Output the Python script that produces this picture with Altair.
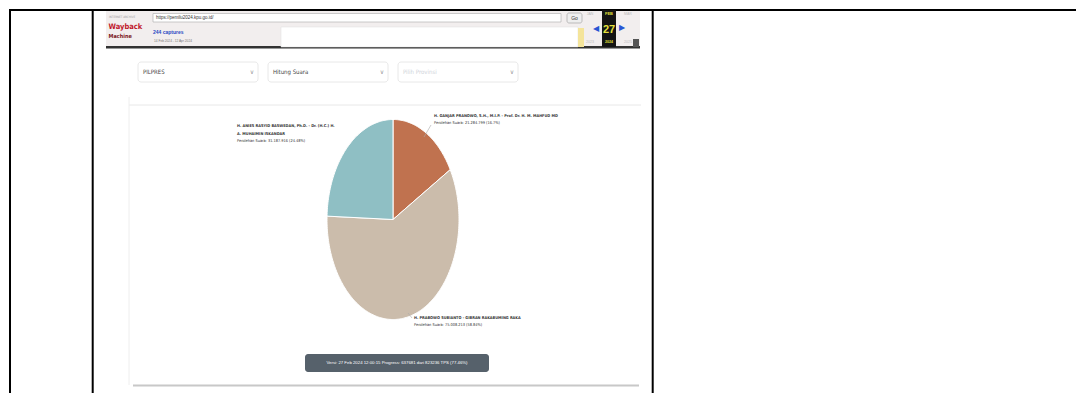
import math
import altair as alt
import pandas as pd

# ---------------- data ----------------
candidates = [
    "H. GANJAR PRANOWO, S.H., M.I.P. - Prof. Dr. H. M. MAHFUD MD",
    "H. PRABOWO SUBIANTO - GIBRAN RAKABUMING RAKA",
    "H. ANIES RASYID BASWEDAN, Ph.D. - Dr. (H.C.) H. A. MUHAIMIN ISKANDAR",
]
votes = [21284799, 75008213, 31187916]
percent_labels = ["16.7", "58.84", "24.48"]
slice_colors = ["#c0724f", "#cbbcab", "#8fbfc4"]
filter_labels = ["PILPRES", "Hitung Suara", "Pilih Provinsi"]
version_text = "Versi: 27 Feb 2024 12:00:15 Progress: 637681 dari 823236 TPS (77.46%)"
url_text = "https://pemilu2024.kpu.go.id/"
captures_text = "244 captures"
range_text = "14 Feb 2024 - 12 Apr 2024"

# ---------------- pie geometry from the vote values ----------------
total = sum(votes)
rows = []
cum = 0
for c, v in zip(candidates, votes):
    a0 = cum / total * 2 * math.pi
    cum += v
    a1 = cum / total * 2 * math.pi
    n = max(2, int(math.degrees(a1 - a0)))
    pts = [(0.0, 0.0)]
    for k in range(n + 1):
        a = a0 + (a1 - a0) * k / n
        pts.append((math.sin(a), math.cos(a)))
    pts.append((0.0, 0.0))
    for j, (px, py) in enumerate(pts):
        rows.append({"slice": c, "ord": j, "px": px, "py": py})
pie_df = pd.DataFrame(rows)

one = pd.DataFrame({"k": [0]})
OFF = 8  # page margin


def rect(x1, y1, x2, y2, fill, stroke=None, sw=0.0, r=0):
    kw = dict(fill=fill, cornerRadius=r)
    if stroke:
        kw.update(stroke=stroke, strokeWidth=sw)
    else:
        kw.update(strokeWidth=0)
    return alt.Chart(one).mark_rect(**kw).encode(
        x=alt.value(x1 - OFF), x2=alt.value(x2 - OFF),
        y=alt.value(y1 - OFF), y2=alt.value(y2 - OFF))


def line(x1, y1, x2, y2, color, sw=1.0):
    return alt.Chart(one).mark_rule(color=color, strokeWidth=sw).encode(
        x=alt.value(x1 - OFF), x2=alt.value(x2 - OFF),
        y=alt.value(y1 - OFF), y2=alt.value(y2 - OFF))


def text(x, y, s, size, color, weight="normal", align="left",
         font="Liberation Sans"):
    return alt.Chart(one).mark_text(
        text=s, fontSize=size, color=color, fontWeight=weight, align=align,
        baseline="middle", font=font).encode(
        x=alt.value(x - OFF), y=alt.value(y - OFF))


NARROW = "Liberation Sans Narrow, DejaVu Sans Condensed, Liberation Sans"

layers = []

# table borders
layers += [
    line(8, 8, 1082, 8, "#000000", 2),
    line(9, 7, 9, 401, "#000000", 2),
    line(91.7, 7, 91.7, 401, "#000000", 2),
    line(651.7, 7, 651.7, 401, "#000000", 2),
    line(1081, 7, 1081, 401, "#000000", 2),
]

# wayback toolbar
layers += [
    rect(105, 9, 639, 46, "#f2eeee"),
    rect(105, 44, 639, 46.5, "#333333"),
    text(108, 15, "INTERNET ARCHIVE", 3, "#9a9a9a", font=NARROW),
    text(107.5, 25, "Wayback", 7.5, "#c0182c", "bold", font=NARROW),
    text(107.5, 33.5, "Machine", 5.5, "#7a1620", "bold", font=NARROW),
    rect(152, 11.5, 560, 20, "#ffffff", "#aaaaaa", 0.6),
    text(155, 15.8, url_text, 4.5, "#333333"),
    rect(566, 11, 581, 21, "#eeeeee", "#999999", 0.6, 2),
    text(573.5, 16, "Go", 5, "#333333", align="center"),
    text(152, 29.5, captures_text, 5, "#2b4cc4", "bold"),
    text(153, 38.5, range_text, 3.2, "#777777"),
    rect(280, 25, 577, 45, "#ffffff", "#dddddd", 0.5),
    rect(577, 26, 583, 45, "#f4e49a"),
    text(589, 12, "JAN", 3.5, "#bbbbbb", align="center"),
    text(589, 40, "2023", 3.5, "#bbbbbb", align="center"),
    rect(601, 8, 615, 45, "#141414"),
    text(608, 12, "FEB", 4, "#e6e03c", "bold", align="center"),
    text(608, 28, "27", 11, "#e6e03c", "bold", align="center"),
    text(608, 40, "2024", 3.5, "#e6e03c", "bold", align="center"),
    text(595, 27, "\u25C0", 8, "#2a55d3", align="center", font="DejaVu Sans"),
    text(621, 26, "\u25B6", 8, "#2a55d3", align="center", font="DejaVu Sans"),
    text(627, 12, "MAR", 3.5, "#bbbbbb", align="center"),
    text(627, 40, "2025", 3.5, "#bbbbbb", align="center"),
    rect(632, 37, 638, 45, "#555555"),
]

# page frame lines
layers += [
    line(128, 103, 640, 103, "#e8e8e8", 1),
    line(128, 95, 128, 383, "#eeeeee", 1),
    line(132, 383.5, 638, 383.5, "#c8c8c8", 2),
]

# dropdown filters
box_x = [137, 267, 397]
text_colors = ["#444444", "#444444", "#cfd4da"]
for bx, lab, tc in zip(box_x, filter_labels, text_colors):
    layers += [
        rect(bx, 60, bx + 120, 80, "#ffffff", "#e2e2e2", 0.8, 3),
        text(bx + 5, 70, lab, 6, tc, font=NARROW),
        text(bx + 114, 70, "\u2228", 6, "#999999", align="center", font="DejaVu Sans"),
    ]

# pie
pie = alt.Chart(pie_df).mark_line(stroke="white", strokeWidth=1, strokeJoin="round").encode(
    x=alt.X("px:Q", scale=alt.Scale(domain=[-1, 1], range=[318, 450], nice=False, zero=False), axis=None),
    y=alt.Y("py:Q", scale=alt.Scale(domain=[-1, 1], range=[309.5, 109.5], nice=False, zero=False), axis=None),
    fill=alt.Fill("slice:N", scale=alt.Scale(domain=candidates, range=slice_colors), legend=None),
    detail="slice:N",
    order="ord:Q",
)
layers.append(pie)


def fmt(v):
    return f"{v:,}".replace(",", ".")


# connectors
layers += [
    line(423, 135, 430, 123, "#aaaaaa", 0.6),
    line(407, 311, 411, 316, "#aaaaaa", 0.6),
]

# pie labels
LS = 3.9
layers += [
    # Ganjar
    text(433, 114, candidates[0], LS, "#333333", "bold", font=NARROW),
    text(433, 120.5, f"Perolehan Suara: {fmt(votes[0])} ({percent_labels[0]}%)", LS, "#333333", font=NARROW),
    # Prabowo
    text(413, 316, candidates[1], LS, "#333333", "bold", font=NARROW),
    text(413, 323, f"Perolehan Suara: {fmt(votes[1])} ({percent_labels[1]}%)", LS, "#333333", font=NARROW),
    # Anies
    text(236, 124, candidates[2][:47], LS, "#333333", "bold", font=NARROW),
    text(236, 131.5, candidates[2][48:], LS, "#333333", "bold", font=NARROW),
    text(236, 139, f"Perolehan Suara: {fmt(votes[2])} ({percent_labels[2]}%)", LS, "#333333", font=NARROW),
]

# version footer
layers += [
    rect(304, 352, 488, 370, "#56616b", r=3),
    text(396, 361, version_text, 4.3, "#ffffff", align="center"),
]

chart = alt.layer(*layers).properties(
    width=1068, height=385,
    autosize=alt.AutoSizeParams(type="fit", contains="padding"),
    padding=0,
).configure_view(strokeWidth=0)

chart.save("out.html", embed_options={"renderer": "svg", "actions": False})
